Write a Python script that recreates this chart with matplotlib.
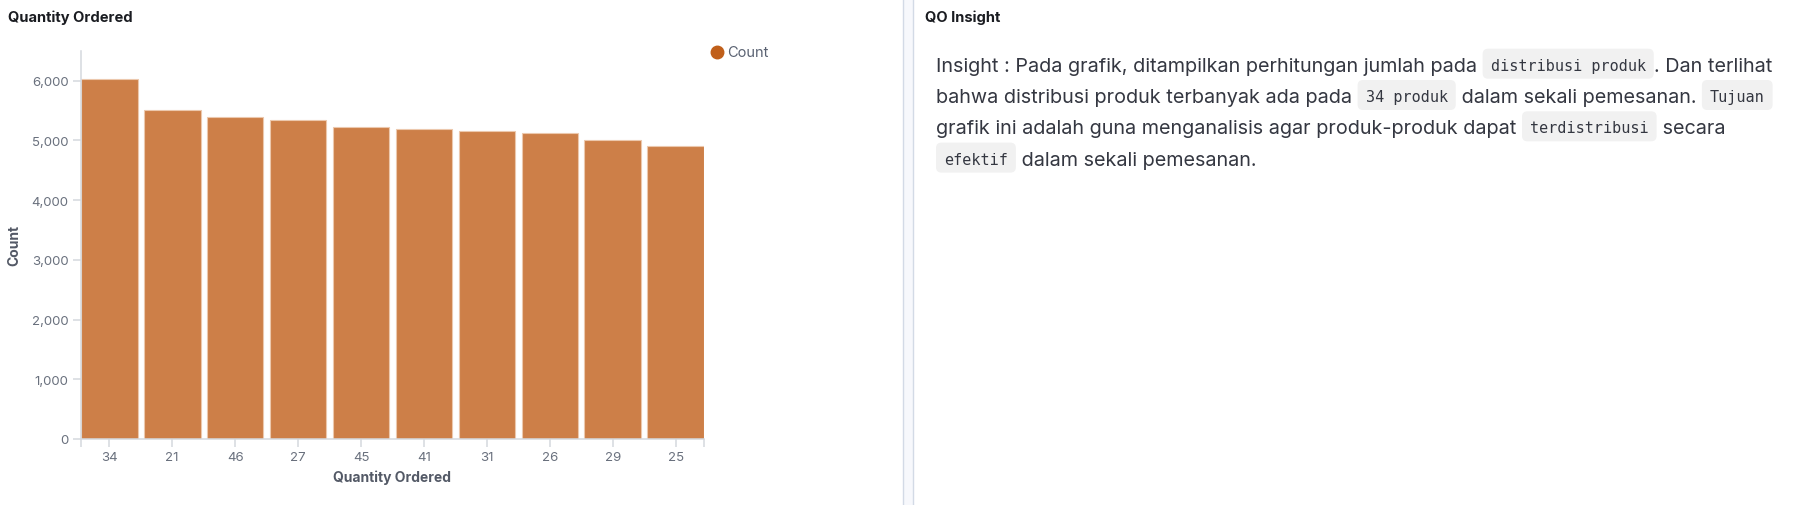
"""Quantity Ordered bar chart with QO Insight text panel."""

import matplotlib
matplotlib.use("Agg")
from matplotlib import pyplot as plt
from matplotlib.patches import FancyBboxPatch, Rectangle
from matplotlib.lines import Line2D
from matplotlib.ticker import FuncFormatter, FixedLocator

# data
quantity = ["34", "21", "46", "27", "45", "41", "31", "26", "29", "25"]
counts = [6020, 5510, 5390, 5340, 5220, 5190, 5150, 5120, 5000, 4900]
y_ticks = [0, 1000, 2000, 3000, 4000, 5000, 6000]

insight_lines = [
    [("Insight : Pada grafik, ditampilkan perhitungan jumlah pada ", False),
     ("distribusi produk", True), (". Dan terlihat", False)],
    [("bahwa distribusi produk terbanyak ada pada ", False), ("34 produk", True),
     (" dalam sekali pemesanan. ", False), ("Tujuan", True)],
    [("grafik ini adalah guna menganalisis agar produk-produk dapat ", False),
     ("terdistribusi", True), (" secara", False)],
    [("efektif", True), (" dalam sekali pemesanan.", False)],
]

W, H = 1816, 506
BAR = "#cd7f48"
DARK = "#c05f1a"
AXIS = "#d4d8de"
TICK_TXT = "#69707d"
TITLE_TXT = "#535966"
TEXT = "#343741"

plt.rcParams["font.family"] = ["Inter", "DejaVu Sans"]

fig = plt.figure(figsize=(W / 100, H / 100), dpi=100)


def fx(px):
    return px / W


def fy(py):
    return 1 - py / H


# panel divider
fig.patches.append(Rectangle((fx(903), 0), fx(10), 1, transform=fig.transFigure,
                             facecolor="#f7f8fc", edgecolor="none", zorder=0))
for xd in (903, 913):
    fig.add_artist(Line2D([fx(xd), fx(xd)], [0, 1], color="#d3dae6", lw=1))

# panel titles
fig.text(fx(8), fy(18), "Quantity Ordered", fontsize=10.6, fontweight="bold",
         color="#1a1c21", va="center", ha="left")
fig.text(fx(925), fy(18), "QO Insight", fontsize=10.6, fontweight="bold",
         color="#1a1c21", va="center", ha="left")

# bar chart
ax = fig.add_axes([fx(81), fy(440), fx(704 - 81), (440 - 51.7) / H])
x = list(range(len(quantity)))
ax.bar(x, counts, width=0.9, color=BAR, edgecolor="#ecc8ad", linewidth=0.8)
ax.set_xlim(-0.45, len(quantity) - 0.55)
ax.set_ylim(0, 6500)

for s in ("top", "right"):
    ax.spines[s].set_visible(False)
for s in ("left", "bottom"):
    ax.spines[s].set_color(AXIS)
    ax.spines[s].set_linewidth(1.1)

ax.set_xticks(x)
ax.set_xticklabels(quantity)
ax.xaxis.set_minor_locator(FixedLocator([-0.45, len(quantity) - 0.55]))
ax.set_yticks(y_ticks)
ax.yaxis.set_major_formatter(FuncFormatter(lambda v, p: f"{int(v):,}"))
ax.tick_params(axis="both", which="both", length=6, width=1.1, color=AXIS,
               labelcolor=TICK_TXT, labelsize=9.5, pad=3)
ax.set_xlabel("Quantity Ordered", fontsize=10, fontweight="bold", color=TITLE_TXT,
              labelpad=4)
ax.set_ylabel("Count", fontsize=10, fontweight="bold", color=TITLE_TXT, labelpad=7)

# legend
fig.add_artist(Line2D([fx(717)], [fy(53)], marker="o", markersize=9, color=DARK,
                      linestyle="none"))
fig.text(fx(727), fy(53), "Count", fontsize=10.5, color="#5a6272", va="center",
         ha="left")

# insight text
fig.canvas.draw()
renderer = fig.canvas.get_renderer()


def text_width(s, **kw):
    t = fig.text(0, 0, s + "|", **kw)
    bar = fig.text(0, 0, "|", **kw)
    w = t.get_window_extent(renderer).width - bar.get_window_extent(renderer).width
    t.remove()
    bar.remove()
    return w


body = dict(fontsize=14.25, color=TEXT, family=["Inter", "DejaVu Sans"])
code = dict(fontsize=10.9, color=TEXT, family=["DejaVu Sans Mono"])
pad = 8
y0 = 71.7
for i, line in enumerate(insight_lines):
    base = y0 + i * 31.3
    cur = 936
    for seg, is_code in line:
        if is_code:
            w = text_width(seg, **code)
            fig.patches.append(FancyBboxPatch(
                (fx(cur), fy(base + 8)), fx(w + 2 * pad), 30 / H,
                boxstyle="round,pad=0,rounding_size=0.003",
                transform=fig.transFigure, facecolor="#f1f1f1", edgecolor="none",
                zorder=1, mutation_aspect=W / H))
            fig.text(fx(cur + pad), fy(base - 1), seg, va="baseline", ha="left",
                     zorder=2, **code)
            cur += w + 2 * pad
        else:
            fig.text(fx(cur), fy(base), seg, va="baseline", ha="left", **body)
            cur += text_width(seg, **body)

fig.savefig("out.png", dpi=100)
